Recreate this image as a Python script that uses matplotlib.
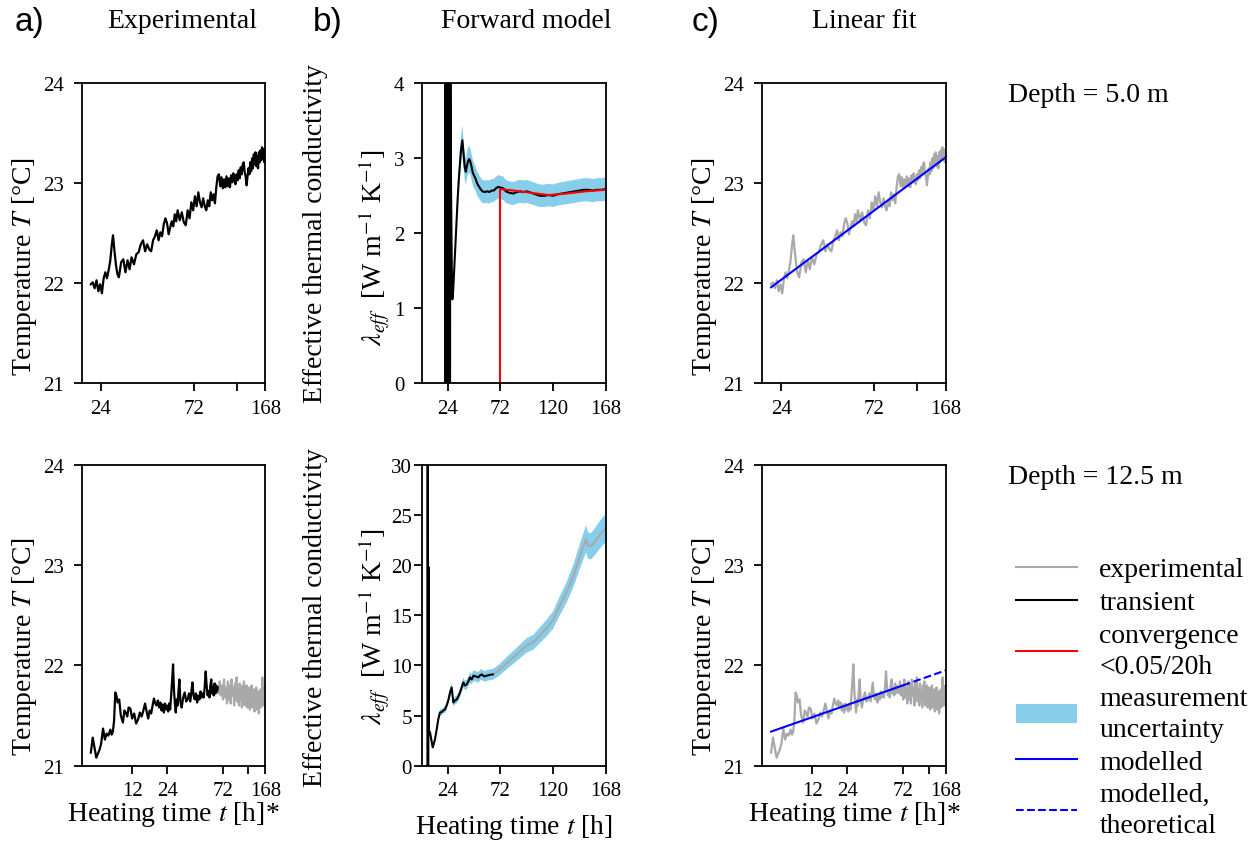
import numpy as np
import matplotlib.pyplot as plt
from matplotlib.lines import Line2D
from matplotlib.patches import Patch
from matplotlib.ticker import NullLocator

plt.rcParams['font.family'] = ['Liberation Serif', 'DejaVu Serif']
plt.rcParams['mathtext.fontset'] = 'stix'
plt.rcParams['xtick.labelsize'] = 15
plt.rcParams['ytick.labelsize'] = 15

# ---- data: depth 5.0 m, temperature [degC] vs heating time [h]
t5 = [21.3, 21.8, 22.3, 22.8, 23.3, 23.8, 24.3, 24.8, 25.3, 25.8,
      26.3, 26.8, 27.3, 27.7, 28.2, 28.7, 29.2, 29.7, 30.5, 31.3,
      32.1, 32.9, 33.7, 34.5, 35.5, 36.5, 37.5, 38.5, 39.5, 40.5,
      41.5, 42.5, 43.5, 44.5, 45.5, 46.5, 47.5, 48.5, 49.5, 50.5,
      51.5, 52.5, 53.5, 54.5, 55.5, 56.5, 57.5, 58.5, 59.5, 61,
      62.5, 64, 65.5, 67, 68.5, 70, 71.5, 73, 74.5, 76,
      77.5, 79, 80.5, 82, 83.5, 85, 86.5, 88, 89.5, 91,
      92.5, 94, 95.5, 97, 98.5, 100, 101.5, 103, 104.5, 106,
      107.5, 109, 110.5, 112, 113.5, 115, 116.5, 118, 119.5, 121,
      122.5, 124, 125.5, 127, 128.5, 130, 131.5, 133, 134.5, 136,
      137.5, 139, 140.5, 142, 143.5, 145, 146.5, 148, 149.5, 151,
      152.5, 154, 155.5, 157, 158.5, 160, 161.5, 163, 164.5, 166,
      167.5]
T5 = [21.99, 22.01, 21.95, 22.03, 21.92, 21.99, 21.90, 22.05, 22.11, 22.05,
      22.13, 22.22, 22.38, 22.48, 22.32, 22.18, 22.09, 22.06, 22.21, 22.24,
      22.11, 22.23, 22.14, 22.26, 22.19, 22.29, 22.31, 22.39, 22.43, 22.32,
      22.39, 22.34, 22.32, 22.43, 22.47, 22.53, 22.43, 22.51, 22.47, 22.59,
      22.65, 22.60, 22.49, 22.56, 22.62, 22.57, 22.69, 22.62, 22.73, 22.63,
      22.71, 22.61, 22.58, 22.73, 22.65, 22.81, 22.73, 22.87, 22.77, 22.91,
      22.81, 22.76, 22.85, 22.77, 22.73, 22.83, 22.77, 22.91, 22.83, 22.89,
      22.80, 22.96, 23.07, 23.09, 22.97, 23.06, 22.95, 23.04, 22.96, 23.07,
      22.97, 23.05, 22.96, 23.08, 23.01, 23.10, 23.02, 22.99, 23.09, 23.03,
      23.13, 23.05, 23.16, 23.09, 23.19, 23.21, 23.11, 23.07, 22.98, 23.07,
      23.15, 23.09, 23.21, 23.12, 23.25, 23.15, 23.29, 23.19, 23.31, 23.17,
      23.27, 23.15, 23.31, 23.21, 23.33, 23.23, 23.36, 23.25, 23.34, 23.21,
      23.28]

# ---- data: depth 12.5 m, temperature
t12 = [5.3, 5.5, 5.7, 5.9, 6.1, 6.3, 6.5, 6.75, 7.0, 7.25,
       7.5, 7.8, 8.0, 8.2, 8.4, 8.6, 8.8, 9.0, 9.3, 9.6,
       10.0, 10.3, 10.6, 10.9, 11.2, 11.6, 12.0, 12.5, 13.0, 13.5,
       14.0, 14.5, 15.0, 15.5, 16.0, 16.5, 17.0, 17.5, 18.0, 18.5,
       19.0, 19.5, 20.0, 20.5, 21.0, 21.5, 22.0, 22.5, 23.0, 23.5,
       24.0, 24.5, 25.0, 25.5, 26.0, 26.5, 27.0, 27.5, 28.0, 28.5,
       29.0, 29.5, 30.0, 30.6, 31.2, 32.0, 33.0, 34.0, 35.0, 36.0,
       37.0, 38.0, 39.0, 39.6, 40.5, 41.5, 42.5, 43.5, 44.5, 45.5,
       46.5, 47.5, 48.5, 49.5, 50.5, 51.5, 52.5, 53.5, 54.5, 55.5,
       56.5, 57.5, 58.5, 59.5, 60.5, 61.5, 62.5, 63.5, 64.5, 65.5,
       66.5, 68, 69.5, 71, 72.5, 74, 75.5, 77, 78.5, 80,
       81.5, 83, 84.5, 86, 87.5, 89, 90.5, 92, 93.5, 95,
       96.5, 98, 99.5, 101, 102.5, 104, 105.5, 107, 108.5, 110,
       111.5, 113, 114.5, 116, 117.5, 119, 120.5, 122, 123.5, 125,
       126.5, 128, 129.5, 131, 132.5, 134, 135.5, 137, 138.5, 140,
       141.5, 143, 144.5, 146, 147.5, 149, 150.5, 152, 153.5, 155,
       156.5, 158, 159.5, 161, 162.5, 164, 165.5, 167, 168]
T12 = [21.13, 21.28, 21.18, 21.08, 21.12, 21.16, 21.22, 21.37, 21.26, 21.32,
       21.30, 21.36, 21.31, 21.34, 21.45, 21.73, 21.70, 21.63, 21.66, 21.50,
       21.43, 21.55, 21.53, 21.49, 21.58, 21.57, 21.47, 21.52, 21.42, 21.46,
       21.53, 21.49, 21.55, 21.62, 21.54, 21.47, 21.55, 21.52, 21.60, 21.67,
       21.62, 21.60, 21.65, 21.58, 21.63, 21.55, 21.61, 21.53, 21.62, 21.56,
       21.60, 21.54, 21.62, 21.56, 21.70, 21.85, 22.01, 21.75, 21.62, 21.53,
       21.66, 21.60, 21.73, 21.86, 21.64, 21.58, 21.68, 21.73, 21.64, 21.66,
       21.72, 21.64, 21.76, 21.83, 21.70, 21.66, 21.72, 21.63, 21.70, 21.66,
       21.74, 21.68, 21.72, 21.68, 21.78, 21.94, 21.80, 21.70, 21.74, 21.68,
       21.80, 21.86, 21.72, 21.78, 21.70, 21.82, 21.72, 21.80, 21.74, 21.78,
       21.72, 21.84, 21.70, 21.80, 21.66, 21.86, 21.68, 21.78, 21.62, 21.84,
       21.66, 21.80, 21.62, 21.86, 21.70, 21.78, 21.60, 21.82, 21.66, 21.88,
       21.64, 21.76, 21.60, 21.82, 21.66, 21.74, 21.58, 21.80, 21.64, 21.84,
       21.60, 21.76, 21.62, 21.80, 21.58, 21.74, 21.62, 21.78, 21.56, 21.72,
       21.64, 21.80, 21.58, 21.74, 21.60, 21.76, 21.54, 21.70, 21.62, 21.78,
       21.56, 21.72, 21.60, 21.74, 21.52, 21.68, 21.62, 21.76, 21.58, 21.70,
       21.60, 21.88, 21.62, 21.78, 21.60, 21.74, 21.62, 21.80, 21.66]
transient_end_12 = 65.5  # end of transient part at 12.5 m [h]

# ---- effective thermal conductivity [W m-1 K-1]
lam5_t = [21.3, 21.8, 22.3, 22.8, 23.3, 23.8, 24.3, 24.8, 25.3, 25.8,
          26.3, 27.0, 27.7, 28.2, 29.0, 30.0, 31.0, 32.0, 33.0, 34.0,
          35.0, 36.0, 37.3, 38.5, 39.5, 40.4, 41.5, 42.5, 43.5, 44.3,
          45.5, 47.0, 49.0, 51.0, 53.4, 55.5, 57.9, 60.0, 62.0, 64.0,
          66.0, 68.0, 70.0, 72.0, 74.6, 77.0, 80.0, 83.8, 87, 90,
          93, 96, 100, 104, 108, 112, 116, 120, 124, 128,
          132, 136, 140, 144, 148, 152, 156, 160, 164, 168]
lam5 = [45, -40, 35, -30, 28, -25, 20, -15, 12, -8,
        5.0, 2.6, 1.5, 1.12, 1.25, 1.55, 1.85, 2.15, 2.45, 2.7,
        2.9, 3.1, 3.24, 3.05, 2.88, 2.82, 2.9, 2.96, 2.99, 2.97,
        2.9, 2.8, 2.74, 2.66, 2.6, 2.56, 2.55, 2.56, 2.55, 2.57,
        2.57, 2.6, 2.62, 2.61, 2.6, 2.56, 2.54, 2.53, 2.55, 2.56,
        2.55, 2.56, 2.54, 2.52, 2.5, 2.5, 2.51, 2.5, 2.52, 2.53,
        2.54, 2.55, 2.56, 2.57, 2.58, 2.58, 2.57, 2.58, 2.58, 2.59]
conv_t = [72, 84, 100, 116, 132, 150, 168]
conv_lam = [2.59, 2.57, 2.54, 2.51, 2.53, 2.56, 2.58]

lam12_t = [5.3, 5.7, 6.1, 6.5, 6.9, 7.9, 9.0, 10.3, 11.3, 12.4,
           13.9, 15.4, 16.9, 18.5, 20.0, 21.5, 23.0, 24.5, 26.1, 27.6,
           29.1, 30.6, 32.2, 33.7, 35.2, 36.7, 38.2, 39.7, 41.3, 42.8,
           44.3, 45.8, 47.4, 49.6, 51.9, 53.4, 54.9, 57.2, 59.5, 62.0,
           65.0, 68.0, 71.7, 77.5, 83.8, 90.0, 96.0, 102.0, 108.0, 114.0,
           120.0, 126.4, 132.5, 138.5, 144.6, 150.0, 152.2, 155.0, 158.0, 161.3,
           164.0, 167.4, 168.0]
lam12 = [-40, 45, -10, 19.8, 3.5, 3.3, 2.6, 1.83, 2.2, 2.66,
         3.6, 4.65, 5.3, 5.35, 5.5, 5.6, 6.0, 6.5, 7.3, 7.8,
         6.3, 6.5, 6.6, 6.9, 7.3, 7.8, 8.3, 8.0, 8.1, 8.4,
         8.8, 8.6, 8.97, 8.9, 8.8, 9.0, 9.1, 8.9, 8.97, 9.05,
         9.1, 9.3, 9.6, 10.2, 10.8, 11.4, 12.0, 12.3, 13.0, 13.7,
         14.5, 16.0, 17.3, 18.9, 20.9, 22.6, 21.9, 21.9, 22.3, 22.8,
         23.2, 23.6, 23.7]
rel_unc = 0.06  # relative measurement uncertainty

# ---- linear fits (T vs ln t)
fit5_t = [21.3, 168]
fit5_T = [21.96, 23.26]
fit12_t = [5.3, 72, 168]
fit12_T = [21.34, 21.80, 21.95]

GRAY = '#a9a9a9'
BAND = '#87ceeb'
W, H = 1258, 845

fig = plt.figure(figsize=(W / 100, H / 100), dpi=100)


def add_ax(left, top, h):
    return fig.add_axes([left / W, 1 - (top + h) / H, 183.4 / W, h / H])


def style(ax, ypad=7):
    for s in ax.spines.values():
        s.set_linewidth(1.3)
    ax.tick_params(direction='out', length=6, width=1.3, pad=5)
    ax.tick_params(axis='y', pad=ypad)


def split(t, y, t_end):
    t = np.asarray(t)
    y = np.asarray(y)
    i = np.searchsorted(t, t_end)
    return (t[:i + 1], y[:i + 1]), (t[i:], y[i:])


def temp_axis(ax, top_row):
    ax.set_xscale('log')
    ax.set_ylim(21, 24)
    ax.set_yticks([21, 22, 23, 24])
    if top_row:
        ax.set_xlim(19.2, 168)
        ax.set_xticks([24, 72, 120, 168])
        ax.set_xticklabels(['24', '72', '', '168'])
    else:
        ax.set_xlim(4.45, 168)
        ax.set_xticks([12, 24, 72, 120, 168])
        ax.set_xticklabels(['12', '24', '72', '', '168'])
    ax.xaxis.set_minor_locator(NullLocator())
    ax.text(-0.316, 0.394 if top_row else 0.399, 'Temperature $T$ [°C]',
            transform=ax.transAxes, rotation=90, ha='center', va='center',
            fontsize=20)
    if not top_row:
        ax.text(0.5, -0.16, 'Heating time $t$ [h]*', transform=ax.transAxes,
                ha='center', va='center', fontsize=20)
    style(ax)


def lam_axis(ax, top_row):
    ax.set_xlim(0.8, 168)
    ax.set_xticks([24, 72, 120, 168])
    if top_row:
        ax.set_ylim(0, 4)
        ax.set_yticks([0, 1, 2, 3, 4])
    else:
        ax.set_ylim(0, 30)
        ax.set_yticks([0, 5, 10, 15, 20, 25, 30])
        ax.text(0.5, -0.202, 'Heating time $t$ [h]', transform=ax.transAxes,
                ha='center', va='center', fontsize=20)
    ax.text(-0.58, 0.504 if top_row else 0.497, 'Effective thermal conductivity',
            transform=ax.transAxes, rotation=90, ha='center', va='center',
            fontsize=20)
    ax.text(-0.262, 0.455 if top_row else 0.464,
            r'$\lambda_{eff}$  [W m$^{-1}$ K$^{-1}$]',
            transform=ax.transAxes, rotation=90, ha='center', va='center',
            fontsize=20)
    style(ax, ypad=7 if top_row else 1.5)


ax_a1 = add_ax(82, 84.3, 300)
ax_b1 = add_ax(422.3, 84.3, 300)
ax_c1 = add_ax(762.3, 84.3, 300)
ax_a2 = add_ax(82, 465.7, 301)
ax_b2 = add_ax(422.3, 465.7, 301)
ax_c2 = add_ax(762.3, 465.7, 301)

# a) experimental
ax_a1.plot(t5, T5, color='k', lw=1.6)
(tb, yb), (tg, yg) = split(t12, T12, transient_end_12)
ax_a2.plot(tg, yg, color=GRAY, lw=1.6)
ax_a2.plot(tb, yb, color='k', lw=1.6)
temp_axis(ax_a1, True)
temp_axis(ax_a2, False)

# b) forward model
l5 = np.asarray(lam5)
ax_b1.fill_between(lam5_t, l5 * (1 - rel_unc), l5 * (1 + rel_unc),
                   color=BAND, lw=0)
ax_b1.plot(lam5_t, lam5, color='k', lw=1.5)
ax_b1.plot(conv_t, conv_lam, color='red', lw=1.5)
ax_b1.vlines(conv_t[0], 0, conv_lam[0], color='red', lw=1.5)
lam_axis(ax_b1, True)

l12 = np.asarray(lam12)
ax_b2.fill_between(lam12_t, l12 * (1 - rel_unc), l12 * (1 + rel_unc),
                   color=BAND, lw=0)
(tb, yb), (tg, yg) = split(lam12_t, lam12, 65.0)
ax_b2.plot(tg, yg, color=GRAY, lw=1.5)
ax_b2.plot(tb, yb, color='k', lw=1.5)
lam_axis(ax_b2, False)

# c) linear fit
ax_c1.plot(t5, T5, color=GRAY, lw=1.6)
ax_c1.plot(fit5_t, fit5_T, color='blue', lw=1.5)
ax_c2.plot(t12, T12, color=GRAY, lw=1.6)
ax_c2.plot(fit12_t[:2], fit12_T[:2], color='blue', lw=1.5)
ax_c2.plot(fit12_t[1:], fit12_T[1:], color='blue', lw=1.5, ls='--')
temp_axis(ax_c1, True)
temp_axis(ax_c2, False)

# headers
ty = 1 - 22 / H
for x, s in [(15, 'a)'), (313, 'b)'), (692, 'c)')]:
    fig.text(x / W, ty, s, family=['Liberation Sans', 'DejaVu Sans'],
             fontsize=24, ha='left', va='center')
for x, s in [(182, 'Experimental'), (526, 'Forward model'), (864, 'Linear fit')]:
    fig.text(x / W, ty, s, fontsize=20, ha='center', va='center')

fig.text(1008 / W, 1 - 96 / H, 'Depth = 5.0 m', fontsize=20, va='center')
fig.text(1008 / W, 1 - 478 / H, 'Depth = 12.5 m', fontsize=20, va='center')

handles = [
    Line2D([], [], color=GRAY, lw=1.5, label='experimental'),
    Line2D([], [], color='k', lw=1.5, label='transient'),
    Line2D([], [], color='red', lw=1.5, label='convergence\n<0.05/20h'),
    Patch(facecolor=BAND, edgecolor='none', label='measurement\nuncertainty'),
    Line2D([], [], color='blue', lw=1.5, label='modelled'),
    Line2D([], [], color='blue', lw=1.5, ls='--', label='modelled,\ntheoretical'),
]
leg = fig.legend(handles=handles, loc='upper left',
                 bbox_to_anchor=(1016 / W, 1 - 558 / H), frameon=False,
                 fontsize=20, handlelength=2.2, handletextpad=0.8,
                 labelspacing=0.27, borderpad=0, borderaxespad=0)
for txt in leg.get_texts():
    txt.set_linespacing(1.3)

fig.savefig('out.png', dpi=100)
